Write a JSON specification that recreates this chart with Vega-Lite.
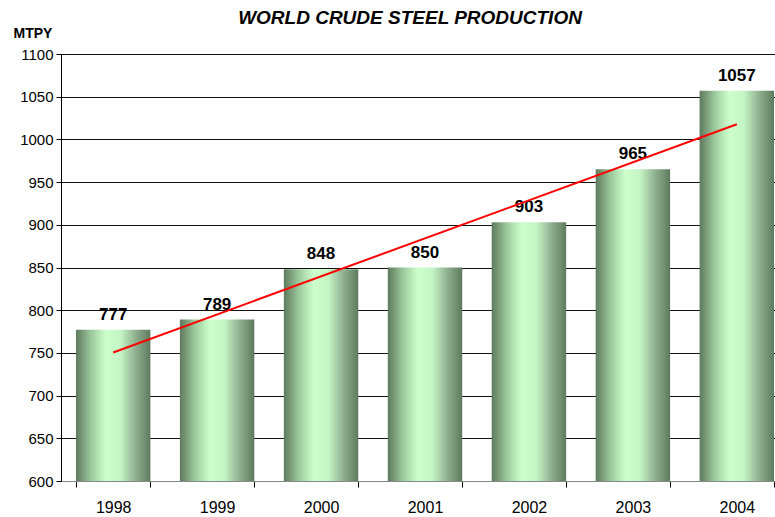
{
  "$schema": "https://vega.github.io/schema/vega-lite/v6.json",
  "width": 714,
  "height": 427,
  "autosize": "none",
  "padding": {"left": 61, "top": 54, "right": 0, "bottom": 36},
  "background": "white",
  "title": {
    "text": "WORLD CRUDE STEEL PRODUCTION",
    "font": "Liberation Sans",
    "fontSize": 19,
    "fontWeight": "bold",
    "fontStyle": "italic",
    "color": "black",
    "anchor": "middle",
    "dx": -8,
    "offset": -2
  },
  "config": {
    "view": {"stroke": null},
    "font": "Liberation Sans"
  },
  "data": {
    "values": [
      {"year": "1998", "mtpy": 777, "trend": 750.5},
      {"year": "1999", "mtpy": 789},
      {"year": "2000", "mtpy": 848},
      {"year": "2001", "mtpy": 850},
      {"year": "2002", "mtpy": 903},
      {"year": "2003", "mtpy": 965},
      {"year": "2004", "mtpy": 1057, "trend": 1017.8}
    ]
  },
  "encoding": {
    "x": {
      "field": "year",
      "type": "ordinal",
      "scale": {"paddingInner": 0.284, "paddingOuter": 0.144, "range": [0, 728]},
      "axis": {
        "title": null,
        "labelAngle": 0,
        "labelFontSize": 16,
        "labelColor": "black",
        "labelPadding": 12,
        "tickBand": "extent",
        "tickSize": 6,
        "tickColor": "black",
        "domainColor": "#888888",
        "grid": false
      }
    }
  },
  "layer": [
    {
      "mark": {
        "type": "bar",
        "clip": true,
        "color": {
          "gradient": "linear",
          "x1": 0, "x2": 1, "y1": 0, "y2": 0,
          "stops": [
            {"offset": 0, "color": "#5e7a5e"},
            {"offset": 0.2, "color": "#9cc89c"},
            {"offset": 0.4, "color": "#ccffcc"},
            {"offset": 0.6, "color": "#c4f4c4"},
            {"offset": 0.8, "color": "#8fb08f"},
            {"offset": 1, "color": "#5e7a5e"}
          ]
        }
      },
      "encoding": {
        "y": {
          "field": "mtpy",
          "type": "quantitative",
          "scale": {"domain": [600, 1100], "zero": false, "nice": false},
          "axis": {
            "title": "MTPY",
            "titleAngle": 0,
            "titleAlign": "left",
            "titleBaseline": "alphabetic",
            "titleX": -48,
            "titleY": -17,
            "titleFontSize": 14,
            "titleFontWeight": "bold",
            "titleColor": "black",
            "values": [600, 650, 700, 750, 800, 850, 900, 950, 1000, 1050, 1100],
            "format": "d",
            "labelFontSize": 15,
            "labelColor": "black",
            "labelPadding": 3,
            "tickSize": 5,
            "tickColor": "black",
            "domainColor": "black",
            "grid": true,
            "gridColor": "#111111",
            "gridWidth": 1
          }
        }
      }
    },
    {
      "mark": {"type": "text", "baseline": "bottom", "dy": -6, "fontSize": 17, "fontWeight": "bold", "color": "black"},
      "encoding": {
        "y": {"field": "mtpy", "type": "quantitative"},
        "text": {"field": "mtpy", "type": "quantitative"}
      }
    },
    {
      "transform": [{"filter": "isValid(datum.trend)"}],
      "mark": {"type": "line", "color": "#ff0000", "strokeWidth": 2},
      "encoding": {
        "y": {"field": "trend", "type": "quantitative"}
      }
    }
  ]
}
